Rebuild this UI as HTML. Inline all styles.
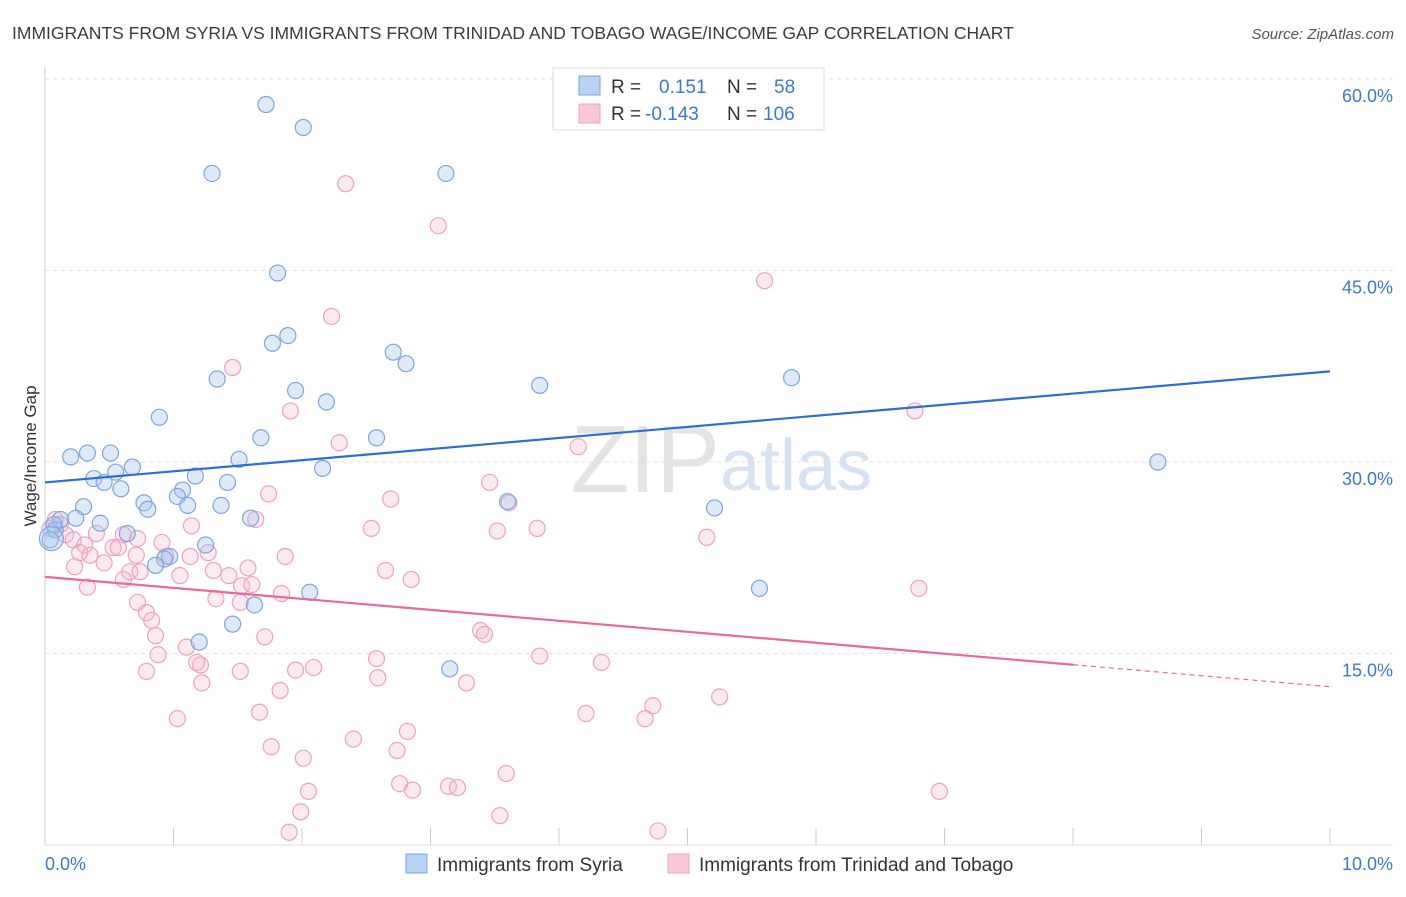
<!DOCTYPE html>
<html><head><meta charset="utf-8"><style>
body{margin:0;background:#fff;font-family:"Liberation Sans",sans-serif}
svg text{font-family:"Liberation Sans",sans-serif}
</style></head><body>
<svg id="chart" width="1406" height="892" viewBox="0 0 1406 892">
<text x="12" y="39" font-size="17.5" fill="#3c3c3c">IMMIGRANTS FROM SYRIA VS IMMIGRANTS FROM TRINIDAD AND TOBAGO WAGE/INCOME GAP CORRELATION CHART</text>
<text x="1394" y="39" font-size="15" fill="#555" font-style="italic" text-anchor="end">Source: ZipAtlas.com</text>
<text x="720" y="492" font-size="96" fill="#e4e4e4" text-anchor="end" font-family="Liberation Serif">ZIP</text>
<text x="720" y="490" font-size="72" fill="#d6e3f3">atlas</text>
<g id="grid"></g><g id="axes"></g><g id="pts"></g><g id="lines"></g>
<g>
<rect x="553" y="68" width="271" height="62" fill="#fff" stroke="#ddd"/>
<rect x="579" y="76" width="21" height="19" fill="#b7d2f5" stroke="#7aa7e0"/>
<rect x="579" y="104" width="21" height="19" fill="#f9c7d7" stroke="#f0a0bc"/>
<text x="611" y="93" font-size="19" fill="#333">R = </text><text x="659" y="93" font-size="19" fill="#3a78d4">0.151</text>
<text x="727" y="93" font-size="19" fill="#333">N = </text><text x="774" y="93" font-size="19" fill="#3a78d4">58</text>
<text x="611" y="120" font-size="19" fill="#333">R = </text><text x="645" y="120" font-size="19" fill="#3a78d4">-0.143</text>
<text x="727" y="120" font-size="19" fill="#333">N = </text><text x="763" y="120" font-size="19" fill="#3a78d4">106</text>
</g>
<text x="36" y="456" font-size="17" fill="#333" transform="rotate(-90 36 456)" text-anchor="middle">Wage/Income Gap</text>
<text x="45" y="870" font-size="18" fill="#3a78d4">0.0%</text>
<text x="1393" y="870" font-size="18" fill="#3a78d4" text-anchor="end">10.0%</text>
<g>
<rect x="406" y="854" width="21" height="19" fill="#b7d2f5" stroke="#7aa7e0"/>
<text x="437" y="871" font-size="19" fill="#333">Immigrants from Syria</text>
<rect x="668" y="854" width="21" height="19" fill="#f9c7d7" stroke="#f0a0bc"/>
<text x="699" y="871" font-size="19" fill="#333">Immigrants from Trinidad and Tobago</text>
</g>
</svg>
<script>
const yTicks=[15,30,45,60];
const yTickLabels=["15.0%","30.0%","45.0%","60.0%"];
const xTicks=[1,2,3,4,5,6,7,8,9,10];
const syriaX=[1.72,2.01,1.30,3.12,1.81,1.89,1.77,2.71,2.81,1.34,3.85,5.81,1.95,2.19,0.89,1.68,2.58,1.51,2.16,8.66,0.20,0.33,0.51,0.68,0.55,0.38,0.46,0.59,1.17,1.07,1.03,1.42,0.77,0.80,1.11,1.37,0.30,3.60,5.21,0.24,0.43,1.60,0.64,0.12,0.08,0.04,0.07,1.25,0.97,0.93,0.86,5.56,2.06,1.63,1.46,1.20,3.15,0.05];
const syriaY=[58.0,56.2,52.6,52.6,44.8,39.9,39.3,38.6,37.7,36.5,36.0,36.6,35.6,34.7,33.5,31.9,31.9,30.2,29.5,30.0,30.4,30.7,30.7,29.6,29.2,28.7,28.4,27.9,28.9,27.8,27.3,28.4,26.8,26.3,26.6,26.6,26.5,26.9,26.4,25.6,25.2,25.6,24.4,25.5,24.7,23.9,25.1,23.5,22.6,22.4,21.9,20.1,19.8,18.8,17.3,15.9,13.8,24.0];
const trinX=[2.34,3.06,5.60,2.23,1.46,1.91,6.77,2.29,4.15,3.46,1.74,2.69,3.61,1.64,1.14,2.54,3.83,3.52,0.08,0.12,0.04,0.16,0.22,0.31,0.40,0.53,0.61,0.72,0.91,0.27,0.35,0.46,0.57,0.71,0.94,1.13,1.27,1.87,5.15,0.23,0.66,0.74,1.05,1.31,1.43,1.58,2.65,2.85,0.33,0.61,1.53,1.61,1.84,1.33,1.52,0.72,0.79,0.83,6.80,3.39,3.42,0.86,1.71,0.88,1.10,1.21,1.18,1.52,1.95,2.09,2.58,2.59,0.79,1.22,3.28,3.85,4.33,1.83,5.25,4.73,4.21,4.67,1.67,1.03,2.82,2.40,1.76,2.74,2.01,3.59,2.76,3.14,3.21,2.86,2.05,6.96,1.99,3.54,1.90,4.77];
const trinY=[51.8,48.5,44.2,41.4,37.4,34.0,34.0,31.5,31.2,28.4,27.5,27.1,26.8,25.5,25.0,24.8,24.8,24.6,25.5,25.1,24.8,24.3,23.9,23.5,24.4,23.3,24.3,24.0,23.7,22.9,22.7,22.1,23.3,22.7,22.6,22.6,22.9,22.6,24.1,21.8,21.4,21.4,21.1,21.5,21.1,21.7,21.5,20.8,20.2,20.8,20.3,20.4,19.7,19.3,19.0,19.0,18.2,17.6,20.1,16.8,16.5,16.4,16.3,14.9,15.5,14.1,14.3,13.6,13.7,13.9,14.6,13.1,13.6,12.7,12.7,14.8,14.3,12.1,11.6,10.9,10.3,9.9,10.4,9.9,8.9,8.3,7.7,7.4,6.8,5.6,4.8,4.6,4.5,4.3,4.2,4.2,2.6,2.3,1.0,1.1];
const syriaTrend=[28.4,37.1];
const trinTrend=[21.0,12.4];
const trinSolidEnd=8.0;
const NS='http://www.w3.org/2000/svg';
const X=v=>45+v*128.5, Y=v=>845-v*12.767;
function mk(t,a,p){const e=document.createElementNS(NS,t);for(const k in a)e.setAttribute(k,a[k]);p.appendChild(e);return e;}
const grid=document.getElementById('grid'),axes=document.getElementById('axes'),pts=document.getElementById('pts'),lines=document.getElementById('lines');
yTicks.forEach((t,i)=>{
 const l=mk('line',{x1:45,x2:1393,y1:Y(t),y2:Y(t),stroke:'#e2e2e2','stroke-dasharray':'4,4'},grid);
 
 
 const tx=mk('text',{x:1393,y:Y(t)+23,'font-size':18,fill:'#3a78d4','text-anchor':'end'},grid);
 tx.textContent=yTickLabels[i];
 
 
});
const ya=mk('line',{x1:45,x2:45,y1:67,y2:845,stroke:'#ccc'},axes);


const xa=mk('line',{x1:45,x2:1393,y1:845,y2:845,stroke:'#ddd'},axes);


xTicks.forEach(t=>{
 const l=mk('line',{x1:X(t),x2:X(t),y1:828,y2:845,stroke:'#ccc'},axes);
 
 
});
trinX.forEach((x,i)=>{
 const c=mk('circle',{cx:X(x),cy:Y(trinY[i]),r:8,fill:'rgba(248,185,206,0.3)',stroke:'#f0a0bc','stroke-width':1.2},pts);
 
 
});
syriaX.forEach((x,i)=>{
 const big=i===syriaX.length-1;
 const c=mk('circle',{cx:X(x),cy:Y(syriaY[i]),r:big?12:8,fill:'rgba(160,195,240,0.35)',stroke:'#7aa7e0','stroke-width':1.2},pts);
 
 
});
const bl=mk('line',{x1:X(0),y1:Y(syriaTrend[0]),x2:X(10),y2:Y(syriaTrend[1]),stroke:'#2b6fd6','stroke-width':2.2},lines);


const py=x=>trinTrend[0]+(trinTrend[1]-trinTrend[0])*x/10;
const pl=mk('line',{x1:X(0),y1:Y(py(0)),x2:X(trinSolidEnd),y2:Y(py(trinSolidEnd)),stroke:'#e8699a','stroke-width':2.2},lines);


const pd=mk('line',{x1:X(trinSolidEnd),y1:Y(py(trinSolidEnd)),x2:X(10),y2:Y(py(10)),stroke:'#e8699a','stroke-width':1.2,'stroke-dasharray':'5,4'},lines);


</script>
</body></html>
